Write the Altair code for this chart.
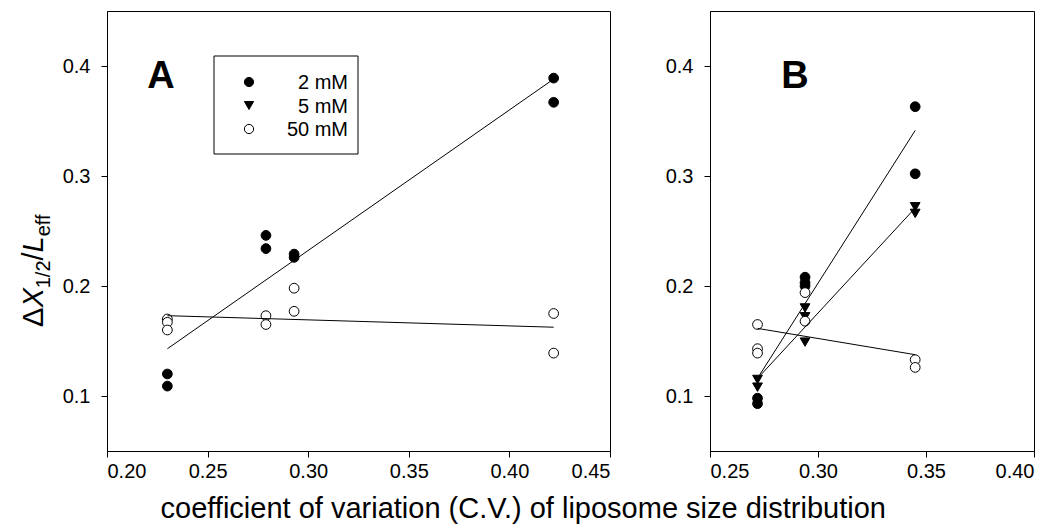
import altair as alt
import pandas as pd

FONT = "Liberation Sans"
series_names = ["2 mM", "5 mM", "50 mM"]
shape_range = ["circle", "triangle-down", "circle"]
fill_range = ["black", "black", "white"]

# Panel A data
a_2mM_x = [0.230, 0.230, 0.279, 0.279, 0.293, 0.293, 0.422, 0.422]
a_2mM_y = [0.120, 0.109, 0.246, 0.234, 0.229, 0.226, 0.389, 0.367]
a_50mM_x = [0.230, 0.230, 0.230, 0.279, 0.279, 0.293, 0.293, 0.422, 0.422]
a_50mM_y = [0.170, 0.167, 0.160, 0.173, 0.165, 0.198, 0.177, 0.175, 0.139]

# Panel B data
b_2mM_x = [0.272, 0.272, 0.294, 0.294, 0.294, 0.345, 0.345]
b_2mM_y = [0.098, 0.093, 0.208, 0.203, 0.200, 0.363, 0.302]
b_5mM_x = [0.272, 0.272, 0.294, 0.294, 0.294, 0.345, 0.345]
b_5mM_y = [0.115, 0.108, 0.180, 0.172, 0.149, 0.272, 0.266]
b_50mM_x = [0.272, 0.272, 0.272, 0.294, 0.294, 0.345, 0.345]
b_50mM_y = [0.165, 0.143, 0.139, 0.194, 0.168, 0.133, 0.126]

xa_ticks = [0.20, 0.25, 0.30, 0.35, 0.40, 0.45]
xb_ticks = [0.25, 0.30, 0.35, 0.40]
y_ticks = [0.1, 0.2, 0.3, 0.4]
y_domain = [0.05, 0.45]
x_title = "coefficient of variation (C.V.) of liposome size distribution"


def frame(pairs):
    rows = []
    for name, xs, ys in pairs:
        for xv, yv in zip(xs, ys):
            rows.append({"series": name, "x": xv, "y": yv})
    return pd.DataFrame(rows)


dfA = frame([("2 mM", a_2mM_x, a_2mM_y), ("50 mM", a_50mM_x, a_50mM_y)])
dfB = frame([("2 mM", b_2mM_x, b_2mM_y), ("5 mM", b_5mM_x, b_5mM_y),
             ("50 mM", b_50mM_x, b_50mM_y)])

W_A, W_B, H = 503, 324, 440


def one():
    return alt.Data(values=[{"k": 1}])


def panel(df, xdom, xticks, letter, letter_x):
    xenc = alt.X("x:Q", scale=alt.Scale(domain=xdom, nice=False, zero=False),
                 axis=alt.Axis(values=xticks, format=".2f", title=None))
    yenc = alt.Y("y:Q", scale=alt.Scale(domain=y_domain, nice=False, zero=False),
                 axis=alt.Axis(values=y_ticks, format=".1f", title=None))
    pts = alt.Chart(df).mark_point(filled=True, size=95, stroke="black",
                                   strokeWidth=1, opacity=1).encode(
        x=xenc, y=yenc,
        shape=alt.Shape("series:N", scale=alt.Scale(domain=series_names, range=shape_range), legend=None),
        fill=alt.Fill("series:N", scale=alt.Scale(domain=series_names, range=fill_range), legend=None),
    )
    lines = alt.Chart(df).transform_regression(
        "x", "y", groupby=["series"]).mark_line(color="black", strokeWidth=1).encode(
        x=alt.X("x:Q"), y=alt.Y("y:Q"), detail="series:N")
    lab = alt.Chart(one()).mark_text(font=FONT, fontSize=38, fontWeight="bold",
                                     align="center", baseline="middle", color="black").encode(
        x=alt.value(letter_x), y=alt.value(66), text=alt.value(letter))
    return [pts, lines, lab]


layersA = panel(dfA, [0.20, 0.45], xa_ticks, "A", 54)

# Legend (manual, inside panel A)
box = alt.Chart(one()).mark_rect(fill="white", stroke="black", strokeWidth=1).encode(
    x=alt.value(107), x2=alt.value(251), y=alt.value(45), y2=alt.value(143))
leg = [box]
for i, (name, shp, fl) in enumerate(zip(series_names, shape_range, fill_range)):
    yy = 71 + i * 23.5
    leg.append(alt.Chart(one()).mark_point(shape=shp, filled=True, fill=fl, stroke="black",
                                           strokeWidth=1, size=85, opacity=1).encode(
        x=alt.value(142), y=alt.value(yy)))
    leg.append(alt.Chart(one()).mark_text(font=FONT, fontSize=20, align="right",
                                          baseline="middle", color="black").encode(
        x=alt.value(241), y=alt.value(yy + 1), text=alt.value(name)))

# Y-axis title pieces: ΔX_{1/2}/L_eff (rotated)
y0 = 316
xb = -64
pieces = [
    ("Δ", 29, "normal", 0, 0),
    ("X", 29, "italic", 19.4, 0),
    ("1/2", 20, "normal", 38.7, 7),
    ("/", 29, "normal", 66.5, 0),
    ("L", 29, "italic", 74.6, 0),
    ("eff", 20, "normal", 90.7, 7),
]
ytitle = []
for txt, fs, st, off, sub in pieces:
    ytitle.append(alt.Chart(one()).mark_text(font=FONT, fontSize=fs, fontStyle=st, angle=270,
                                             align="left", baseline="alphabetic", color="black").encode(
        x=alt.value(xb + sub), y=alt.value(y0 - off), text=alt.value(txt)))

chartA = alt.layer(*(layersA + leg + ytitle)).properties(width=W_A, height=H)
chartB = alt.layer(*panel(dfB, [0.25, 0.40], xb_ticks, "B", 85)).properties(width=W_B, height=H)

chart = alt.hconcat(chartA, chartB, spacing=53).properties(
    title=alt.TitleParams(x_title, orient="bottom", anchor="middle", font=FONT, fontSize=29,
                          fontWeight="normal", color="black", offset=13, dx=-4),
    padding={"left": 11, "top": 2, "right": 5, "bottom": 2},
).configure_view(stroke="black", strokeWidth=1).configure_axis(
    grid=False, domainColor="black", tickColor="black", labelColor="black",
    labelFont=FONT, labelFontSize=20, tickSize=6, labelPadding=4, domainWidth=1, tickWidth=1,
).configure_axisY(labelPadding=11)

chart.save("out.html", embed_options={"renderer": "svg", "actions": False})
